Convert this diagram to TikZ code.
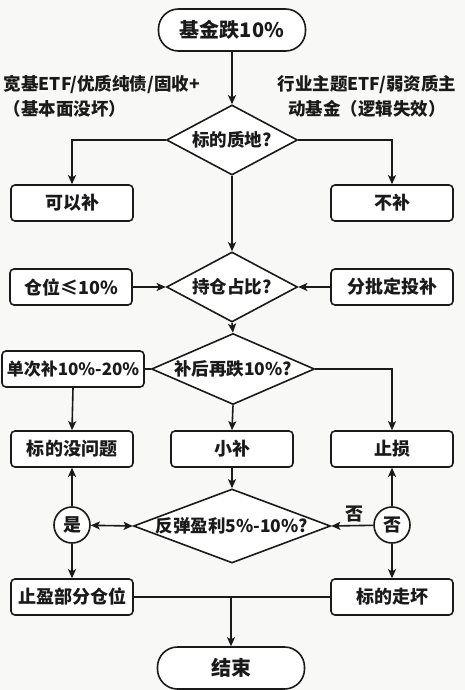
\documentclass[tikz,border=0pt]{standalone}
\usepackage{fontspec}
\setmainfont{Noto Sans CJK SC}
\usetikzlibrary{shapes.geometric,arrows.meta}
\definecolor{ink}{HTML}{1A1A1A}
\definecolor{bg}{HTML}{F8F8F7}
\begin{document}
\begin{tikzpicture}[x=1pt,y=-1pt,
  line width=1.6pt, draw=ink, text=ink,
  every node/.append style={font=\bfseries},
  arr/.style={-{Stealth[length=9pt,width=8pt,inset=2pt]}},
  darr/.style={{Stealth[length=9pt,width=8pt,inset=2pt]}-{Stealth[length=9pt,width=8pt,inset=2pt]}},
  box/.style={draw, fill=white, rounded corners=4pt, minimum width=122pt, minimum height=36pt, inner sep=0pt, font=\fontsize{18pt}{20pt}\selectfont\bfseries},
  term/.style={draw, fill=white, rounded corners=20pt, minimum width=147pt, minimum height=42pt, inner sep=0pt, font=\fontsize{20pt}{22pt}\selectfont\bfseries},
  dia/.style={diamond, draw, fill=white, inner sep=0pt},
  dtext/.style={font=\fontsize{17.5pt}{20pt}\selectfont\bfseries},
  circ/.style={circle, draw, fill=white, minimum size=36pt, inner sep=0pt, font=\fontsize{18pt}{20pt}\selectfont\bfseries},
  lab/.style={font=\fontsize{17.5pt}{25pt}\selectfont\bfseries, inner sep=0pt}
]
\fill[bg] (0,0) rectangle (465,690);
\useasboundingbox (0,0) rectangle (465,690);

\node[term] (start) at (232,30) {基金跌10\%};
\node[dia, minimum width=131pt, minimum height=70pt] (d1) at (232,140) {};
\node[dtext] (d1t) at (d1) {标的质地?};
\node[lab, align=left, anchor=west] (ll) at (3,96) {宽基ETF/优质纯债/固收+\\（基本面没坏）};
\node[lab, align=center] (rl) at (367,96) {行业主题ETF/弱资质主\\动基金（逻辑失效）};
\node[box] (kb) at (72,203) {可以补};
\node[box] (bb) at (392,203) {不补};

\node[dia, minimum width=131pt, minimum height=70pt] (d2) at (232,287) {};
\node[dtext] (d2t) at (d2) {持仓占比?};
\node[box] (cw) at (71,287) {仓位≤10\%};
\node[box] (fp) at (392,287) {分批定投补};

\node[dia, minimum width=163pt, minimum height=71pt] (d3) at (233,369) {};
\node[dtext] (d3t) at (d3) {补后再跌10\%?};
\node[box, minimum width=142pt, font=\fontsize{17pt}{20pt}\selectfont\bfseries] (dc) at (73,369) {单次补10\%-20\%};

\node[box] (mw) at (72,449) {标的没问题};
\node[box] (xb) at (232,449) {小补};
\node[box] (zs) at (392,449) {止损};

\node[dia, minimum width=197pt, minimum height=74pt] (d4) at (232,526) {};
\node[dtext] (d4t) at (d4) {反弹盈利5\%-10\%?};
\node[circ] (yes) at (72,525) {是};
\node[circ] (no) at (392,525) {否};

\node[box] (zy) at (72,597) {止盈部分仓位};
\node[box] (bh) at (392,597) {标的走坏};
\node[term] (end) at (231,668) {结束};

\draw[arr] (start) -- (d1.north);
\draw[arr] (d1.west) -| (kb.north);
\draw[arr] (d1.east) -| (bb.north);
\draw[arr] (d1.south) -- (d2.north);
\draw[arr] (cw.east) -- (d2.west);
\draw[arr] (fp.west) -- (d2.east);
\draw[arr] (d2.south) -- (d3.north);
\draw (dc.east) -- (d3.west);
\draw[arr] (d3.east) -| (zs.north);
\draw[arr] (dc.south) -- (mw.north);
\draw[arr] (d3.south) -- (xb.north);
\draw[arr] (xb.south) -- (d4.north);
\draw[arr] (yes) -- (mw.south);
\draw[arr] (yes) -- (zy.north);
\draw[darr] (yes) -- (d4.west);
\draw[arr] (no) -- (zs.south);
\draw[arr] (no) -- (bh.north);
\draw[arr] (no) -- node[above, pos=0.45, inner sep=3pt, font=\fontsize{18pt}{20pt}\selectfont\bfseries] (nol) {否} (d4.east);
\draw (zy.east) -- (bh.west);
\coordinate (mid) at (zy.east -| end.north);
\draw[arr] (mid) -- (end.north);
\end{tikzpicture}
\end{document}
